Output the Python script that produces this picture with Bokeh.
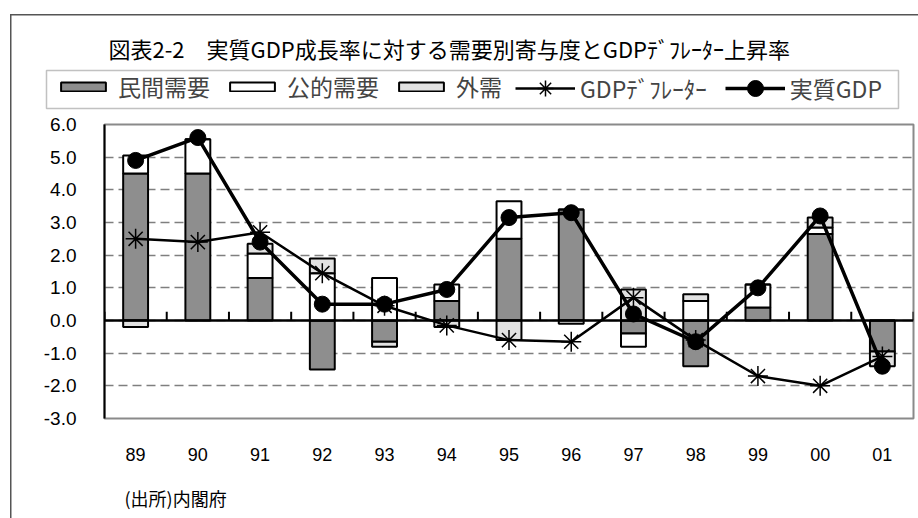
from bokeh.plotting import figure
from bokeh.layouts import column
from bokeh.models import (Range1d, FactorRange, FixedTicker, PrintfTickFormatter, Span,
                          Legend, LegendItem, Label, BoxAnnotation)
from bokeh.embed import file_html
from bokeh.resources import INLINE

years = ["89", "90", "91", "92", "93", "94", "95", "96", "97", "98", "99", "00", "01"]
private_demand = [4.5, 4.5, 1.3, -1.5, -0.65, 0.6, 2.5, 3.4, -0.4, -1.4, 0.4, 2.65, -0.95]
public_demand = [0.55, 1.05, 0.75, 1.45, 1.3, 0.5, 1.15, 0.0, -0.4, 0.6, 0.7, 0.2, 0.0]
external_demand = [-0.2, 0.0, 0.3, 0.45, -0.15, -0.2, -0.6, -0.1, 0.95, 0.2, 0.0, 0.3, -0.45]
gdp_deflator = [2.5, 2.4, 2.7, 1.45, 0.45, -0.15, -0.6, -0.65, 0.7, -0.6, -1.7, -2.0, -1.1]
real_gdp = [4.9, 5.6, 2.4, 0.5, 0.5, 0.95, 3.15, 3.3, 0.2, -0.65, 1.0, 3.2, -1.4]
y_ticks = [-3, -2, -1, 0, 1, 2, 3, 4, 5, 6]

title_text = "図表2-2\u3000実質GDP成長率に対する需要別寄与度とGDPﾃﾞﾌﾚｰﾀｰ上昇率"
legend_labels = ["民間需要", "公的需要", "外需", "GDPﾃﾞﾌﾚｰﾀｰ", "実質GDP"]
source_text = "(出所)内閣府"

JP = "Noto Sans CJK JP"
NUM = "Liberation Sans"

PRIV = dict(fill_color="#8e8e8e", line_color="black", line_width=2)
PUB = dict(fill_color="white", line_color="black", line_width=2)
EXT = dict(fill_color="#e2e2e2", line_color="black", line_width=2)
DEFL_L = dict(line_color="black", line_width=2.5)
DEFL_M = dict(marker="asterisk", size=20, line_color="black", line_width=1.5)
GDP_L = dict(line_color="black", line_width=3.5)
GDP_M = dict(marker="circle", size=16, fill_color="black", line_color="black")


def stack(series_list):
    pos = [0.0] * len(years)
    neg = [0.0] * len(years)
    out = []
    for s in series_list:
        bottoms, tops = [], []
        for i, v in enumerate(s):
            if v >= 0:
                bottoms.append(pos[i]); tops.append(pos[i] + v); pos[i] += v
            else:
                bottoms.append(neg[i]); tops.append(neg[i] + v); neg[i] += v
        out.append((bottoms, tops))
    return out


(pb, pt), (gb, gt), (eb, et) = stack([private_demand, public_demand, external_demand])
idx = list(range(len(years)))


def blank(h):
    f = figure(width=918, height=h, x_axis_type=None, y_axis_type=None,
               output_backend="svg", toolbar_location=None, min_border=0,
               x_range=Range1d(0, 1), y_range=Range1d(0, 1))
    f.outline_line_color = None
    f.background_fill_color = None
    f.border_fill_color = None
    f.xgrid.grid_line_color = None
    f.ygrid.grid_line_color = None
    return f


# ---------------- header (title + legend) ----------------
TOP_H = 112
FOOT_H = 40
head = blank(TOP_H)

# legend-only renderers (same data, not shown in the header itself)
d_priv = head.vbar(x=idx, width=0.4, bottom=pb, top=pt, visible=False, **PRIV)
d_pub = head.vbar(x=idx, width=0.4, bottom=gb, top=gt, visible=False, **PUB)
d_ext = head.vbar(x=idx, width=0.4, bottom=eb, top=et, visible=False, **EXT)
d_defl_l = head.line(x=idx, y=gdp_deflator, visible=False, **DEFL_L)
d_defl_m = head.scatter(x=idx, y=gdp_deflator, visible=False, **DEFL_M)
d_gdp_l = head.line(x=idx, y=real_gdp, visible=False, **GDP_L)
d_gdp_m = head.scatter(x=idx, y=real_gdp, visible=False, **GDP_M)

head.add_layout(Label(x=108, y=TOP_H - 47, x_units="screen", y_units="screen",
                      text=title_text, text_font=JP, text_font_size="22px",
                      text_baseline="middle", text_color="black"))

head.add_layout(BoxAnnotation(left=46, right=898, top=TOP_H - 70, bottom=TOP_H - 108,
                              left_units="screen", right_units="screen",
                              top_units="screen", bottom_units="screen",
                              fill_color=None, line_color="#333333", line_width=1.5))

legA = Legend(items=[LegendItem(label=legend_labels[0], renderers=[d_priv]),
                     LegendItem(label=legend_labels[1], renderers=[d_pub]),
                     LegendItem(label=legend_labels[2], renderers=[d_ext])],
              orientation="horizontal", location=(55, TOP_H - 103),
              glyph_width=56, glyph_height=11, label_height=30, label_standoff=7, spacing=14,
              padding=0, margin=0, border_line_color=None, background_fill_alpha=0,
              inactive_fill_alpha=0,
              label_text_font=JP, label_text_font_size="23px")
legB = Legend(items=[LegendItem(label=legend_labels[3], renderers=[d_defl_l, d_defl_m]),
                     LegendItem(label=legend_labels[4], renderers=[d_gdp_l, d_gdp_m])],
              orientation="horizontal", location=(515, TOP_H - 108),
              glyph_width=60, glyph_height=40, label_height=30, label_standoff=5, spacing=18,
              padding=0, margin=0, border_line_color=None, background_fill_alpha=0,
              inactive_fill_alpha=0,
              label_text_font=JP, label_text_font_size="23px")
head.add_layout(legA)
head.add_layout(legB)

# ---------------- main chart ----------------
MAIN_H = 518 - TOP_H - FOOT_H
p = figure(width=918, height=MAIN_H, x_range=FactorRange(*years), y_range=Range1d(-3, 6),
           output_backend="svg", toolbar_location=None,
           min_border_left=104, min_border_right=5, min_border_top=124 - TOP_H,
           min_border_bottom=TOP_H + MAIN_H - 418)
p.background_fill_color = "white"
p.border_fill_color = None
p.outline_line_color = "#8a8a8a"
p.outline_line_width = 2

p.yaxis.ticker = FixedTicker(ticks=y_ticks)
p.yaxis.formatter = PrintfTickFormatter(format="%.1f")
p.yaxis.axis_line_color = "black"
p.yaxis.axis_line_width = 2
p.yaxis.major_tick_line_color = None
p.yaxis.major_tick_out = 0
p.yaxis.major_tick_in = 0
p.yaxis.minor_tick_line_color = None
p.yaxis.minor_tick_out = 0
p.yaxis.major_label_standoff = 28
p.yaxis.major_label_text_font = NUM
p.yaxis.major_label_text_font_size = "19px"
p.yaxis.major_label_text_color = "black"

p.xaxis.axis_line_color = None
p.xaxis.major_tick_line_color = None
p.xaxis.major_tick_out = 0
p.xaxis.major_tick_in = 0
p.xaxis.minor_tick_line_color = None
p.xaxis.major_label_standoff = 29
p.xaxis.major_label_text_font = NUM
p.xaxis.major_label_text_font_size = "18px"
p.xaxis.major_label_text_color = "black"

p.xgrid.grid_line_color = None
p.ygrid.ticker = FixedTicker(ticks=y_ticks)
p.ygrid.grid_line_color = "#7f7f7f"
p.ygrid.grid_line_width = 1.5
p.ygrid.grid_line_dash = "9 5"

bw = 0.4
p.vbar(x=years, width=bw, bottom=pb, top=pt, **PRIV)
p.vbar(x=years, width=bw, bottom=gb, top=gt, **PUB)
p.vbar(x=years, width=bw, bottom=eb, top=et, **EXT)

p.add_layout(Span(location=0, dimension="width", line_color="black", line_width=2.5))
bounds = list(range(len(years) + 1))
p.segment(x0=bounds, y0=[0] * len(bounds), x1=bounds, y1=[0.27] * len(bounds),
          line_color="black", line_width=2)

p.line(years, gdp_deflator, **DEFL_L)
p.scatter(years, gdp_deflator, **DEFL_M)
p.line(years, real_gdp, **GDP_L)
p.scatter(years, real_gdp, **GDP_M)

# ---------------- footer ----------------
foot = blank(FOOT_H)
foot.add_layout(Label(x=124, y=518 - 497, x_units="screen", y_units="screen",
                      text=source_text, text_font=JP, text_font_size="18px",
                      text_baseline="middle", text_color="black"))

layout = column(column(head), column(p), column(foot), spacing=0,
                styles={"box-shadow": "inset 10px 14px 0 0 white, inset 11.5px 15.5px 0 0 #555555"})

open("out.html", "w").write(file_html(layout, INLINE))
